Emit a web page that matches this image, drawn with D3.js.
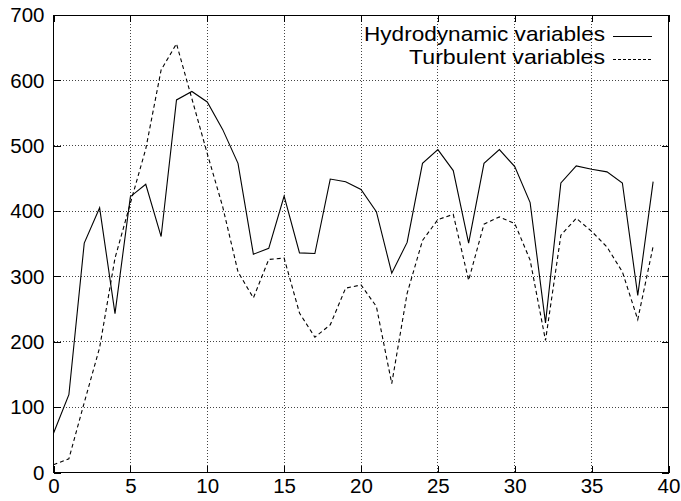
<!DOCTYPE html>
<html>
<head>
<meta charset="utf-8">
<script src="https://cdn.jsdelivr.net/npm/d3@7"></script>
<style>
  html, body { margin: 0; padding: 0; background: #fff; }
  svg { display: block; }
  text { font-family: "Liberation Sans", Arial, Helvetica, sans-serif; fill: #000; }
</style>
</head>
<body>
<svg id="chart" width="681" height="501"></svg>
<script>
// ---- data ----
const xValues = d3.range(0, 40);
const hydrodynamic = [60, 119, 351, 405, 243, 422, 441, 361, 570, 583,
  567, 525, 473, 334, 343, 423, 336, 335, 449, 445,
  433, 399, 305, 352, 473, 494, 462, 351, 473, 494,
  468, 413, 229, 443, 469, 464, 460, 443, 271, 445];
const turbulent = [12, 21, 107, 191, 328, 412, 495, 616, 656, 572,
  488, 407, 307, 267, 326, 328, 244, 207, 226, 282,
  287, 254, 136, 274, 355, 387, 395, 294, 380, 391,
  381, 325, 202, 363, 389, 369, 345, 307, 234, 346];
const xTicks = [0, 5, 10, 15, 20, 25, 30, 35, 40];
const yTicks = [0, 100, 200, 300, 400, 500, 600, 700];
const seriesNames = ["Hydrodynamic variables", "Turbulent variables"];

// ---- layout ----
const svg = d3.select("#chart");
const L = 53.5, R = 668.5, T = 15, B = 472.5;
const x = d3.scaleLinear().domain([0, 40]).range([L, R]);
const y = d3.scaleLinear().domain([0, 700]).range([B, T]);

// grid
const grid = svg.append("g");
grid.selectAll("line.gx").data(xTicks.filter(d => d > 0 && d < 40)).join("line")
  .attr("x1", d => x(d)).attr("x2", d => x(d)).attr("y1", T).attr("y2", B)
  .attr("stroke", "#444").attr("stroke-width", 1).attr("stroke-dasharray", "1,2")
  .attr("shape-rendering", "crispEdges");
grid.selectAll("line.gy").data(yTicks.filter(d => d > 0 && d < 700)).join("line")
  .attr("x1", L).attr("x2", R).attr("y1", d => y(d)).attr("y2", d => y(d))
  .attr("stroke", "#444").attr("stroke-width", 1).attr("stroke-dasharray", "1,2")
  .attr("shape-rendering", "crispEdges");

// axes (ticks inward, mirrored)
const tickLen = 7;
const fs = "20.5px";
const axB = svg.append("g").attr("transform", `translate(0,${B})`)
  .call(d3.axisBottom(x).tickValues(xTicks).tickSizeInner(-tickLen).tickSizeOuter(0).tickPadding(6));
const axT = svg.append("g").attr("transform", `translate(0,${T})`)
  .call(d3.axisTop(x).tickValues(xTicks).tickSizeInner(-tickLen).tickSizeOuter(0).tickFormat(""));
const axL = svg.append("g").attr("transform", `translate(${L},0)`)
  .call(d3.axisLeft(y).tickValues(yTicks).tickSizeInner(-tickLen).tickSizeOuter(0).tickPadding(9));
const axR = svg.append("g").attr("transform", `translate(${R},0)`)
  .call(d3.axisRight(y).tickValues(yTicks).tickSizeInner(-tickLen).tickSizeOuter(0).tickFormat(""));
[axB, axT, axL, axR].forEach(g => {
  g.select(".domain").remove();
  g.selectAll("line").attr("stroke", "#000").attr("shape-rendering", "crispEdges");
  g.selectAll("text").style("font-size", fs).attr("fill", "#000")
   .style("font-family", "'Liberation Sans', Arial, sans-serif");
});
axB.selectAll("text").attr("dy", null).attr("y", 20.5);
axL.selectAll("text").attr("dy", "0.33em");

// frame
svg.append("rect").attr("x", L).attr("y", T).attr("width", R - L).attr("height", B - T)
  .attr("fill", "none").attr("stroke", "#000").attr("stroke-width", 1)
  .attr("shape-rendering", "crispEdges");

// lines
const lineH = d3.line().x((d, i) => x(xValues[i])).y(d => y(d));
svg.append("path").datum(hydrodynamic).attr("d", lineH)
  .attr("fill", "none").attr("stroke", "#000").attr("stroke-width", 1.1);
svg.append("path").datum(turbulent).attr("d", lineH)
  .attr("fill", "none").attr("stroke", "#000").attr("stroke-width", 1.1)
  .attr("stroke-dasharray", "4,3");

// legend
const legend = svg.append("g");
const styles = [null, "3,2"];
const legendWidths = [241, 196];
seriesNames.forEach((name, i) => {
  const by = 41 + i * 23;
  legend.append("text").attr("x", 605).attr("y", by).attr("text-anchor", "end")
    .style("font-size", "20.4px")
    .attr("textLength", legendWidths[i]).attr("lengthAdjust", "spacingAndGlyphs")
    .text(name);
  legend.append("line").attr("x1", 613).attr("x2", 652)
    .attr("y1", by - 4.5).attr("y2", by - 4.5)
    .attr("stroke", "#000").attr("stroke-width", 1)
    .attr("stroke-dasharray", styles[i]);
});
</script>
</body>
</html>
